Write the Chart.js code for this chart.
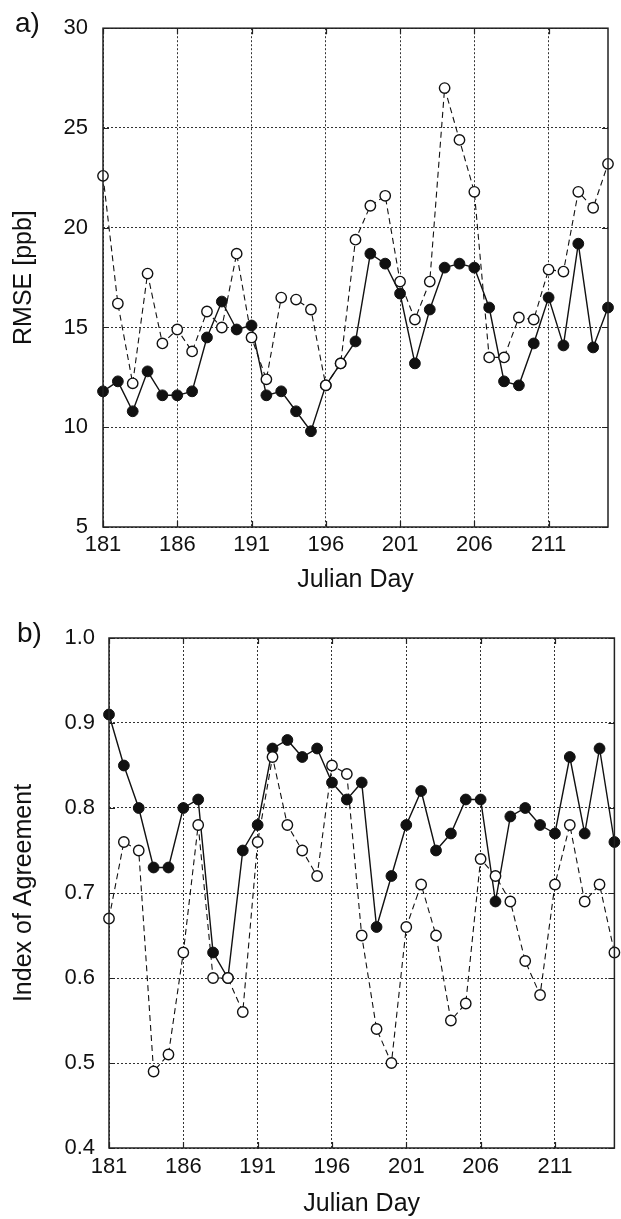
<!DOCTYPE html>
<html>
<head>
<meta charset="utf-8">
<script src="https://cdn.jsdelivr.net/npm/chart.js@4.4.0/dist/chart.umd.min.js"></script>
<style>
  html, body { margin: 0; padding: 0; background: #fff; }
  body { width: 621px; height: 1219px; position: relative; overflow: hidden; }
  .panel { position: absolute; left: 0; }
  .tag { position: absolute; font-family: "Liberation Sans", Arial, sans-serif;
         font-size: 28px; line-height: 28px; color: #111; }
</style>
</head>
<body>
<div class="panel" style="top:0"><canvas id="rmse" width="621" height="600"></canvas></div>
<div class="panel" style="top:600px"><canvas id="ioa" width="621" height="619"></canvas></div>
<div class="tag" style="left:15px; top:9px">a)</div>
<div class="tag" style="left:17px; top:619px">b)</div>
<script>
// Julian days on the x axis
const days = [181, 182, 183, 184, 185, 186, 187, 188, 189, 190,
              191, 192, 193, 194, 195, 196, 197, 198, 199, 200,
              201, 202, 203, 204, 205, 206, 207, 208, 209, 210,
              211, 212, 213, 214, 215];
const xTicks = [181, 186, 191, 196, 201, 206, 211];

// a) RMSE [ppb]
const rmseFilled = [11.8, 12.3, 10.8, 12.8, 11.6, 11.6, 11.8, 14.5, 16.3, 14.9,
                    15.1, 11.6, 11.8, 10.8, 9.8, 12.1, 13.2, 14.3, 18.7, 18.2,
                    16.7, 13.2, 15.9, 18.0, 18.2, 18.0, 16.0, 12.3, 12.1, 14.2,
                    16.5, 14.1, 19.2, 14.0, 16.0];
const rmseOpen = [22.6, 16.2, 12.2, 17.7, 14.2, 14.9, 13.8, 15.8, 15.0, 18.7,
                  14.5, 12.4, 16.5, 16.4, 15.9, 12.1, 13.2, 19.4, 21.1, 21.6,
                  17.3, 15.4, 17.3, 27.0, 24.4, 21.8, 13.5, 13.5, 15.5, 15.4,
                  17.9, 17.8, 21.8, 21.0, 23.2];
const rmseTicks = [5, 10, 15, 20, 25, 30];

// b) Index of Agreement
const ioaFilled = [0.91, 0.85, 0.80, 0.73, 0.73, 0.80, 0.81, 0.63, 0.60, 0.75,
                   0.78, 0.87, 0.88, 0.86, 0.87, 0.83, 0.81, 0.83, 0.66, 0.72,
                   0.78, 0.82, 0.75, 0.77, 0.81, 0.81, 0.69, 0.79, 0.80, 0.78,
                   0.77, 0.86, 0.77, 0.87, 0.76];
const ioaOpen = [0.67, 0.76, 0.75, 0.49, 0.51, 0.63, 0.78, 0.60, 0.60, 0.56,
                 0.76, 0.86, 0.78, 0.75, 0.72, 0.85, 0.84, 0.65, 0.54, 0.50,
                 0.66, 0.71, 0.65, 0.55, 0.57, 0.74, 0.72, 0.69, 0.62, 0.58,
                 0.71, 0.78, 0.69, 0.71, 0.63];
const ioaTicks = [0.4, 0.5, 0.6, 0.7, 0.8, 0.9, 1.0];

const FONT = '"Liberation Sans", Arial, sans-serif';
Chart.defaults.font.family = FONT;
Chart.defaults.color = '#111';

// box round the plot + small inward ticks, matlab style
const boxPlugin = {
  id: 'box',
  afterDraw(chart) {
    const { ctx, chartArea: a, scales } = chart;
    ctx.save();
    ctx.strokeStyle = '#222';
    ctx.lineWidth = 1.5;
    ctx.strokeRect(a.left, a.top, a.right - a.left, a.bottom - a.top);
    ctx.lineWidth = 1.2;
    ctx.beginPath();
    scales.x.ticks.forEach(t => {
      const px = Math.round(scales.x.getPixelForValue(t.value)) + 0.5;
      ctx.moveTo(px, a.bottom); ctx.lineTo(px, a.bottom - 6);
      ctx.moveTo(px, a.top); ctx.lineTo(px, a.top + 6);
    });
    scales.y.ticks.forEach(t => {
      const py = Math.round(scales.y.getPixelForValue(t.value)) + 0.5;
      ctx.moveTo(a.left, py); ctx.lineTo(a.left + 6, py);
      ctx.moveTo(a.right, py); ctx.lineTo(a.right - 6, py);
    });
    ctx.stroke();
    ctx.restore();
  }
};

function pts(vals) {
  return days.map((d, i) => ({ x: d, y: vals[i] }));
}

function makeChart(id, filled, open, yTicks, yMin, yMax, yTitle, fmt, geo) {
  new Chart(document.getElementById(id), {
    type: 'line',
    data: {
      datasets: [
        {
          // open circles, dashed (drawn on top)
          data: pts(open),
          borderColor: '#111',
          borderWidth: 1.1,
          borderDash: [6, 4],
          pointRadius: 5.2,
          pointBackgroundColor: '#fff',
          pointBorderColor: '#111',
          pointBorderWidth: 1.4,
          tension: 0,
          clip: false
        },
        {
          // filled circles, solid
          data: pts(filled),
          borderColor: '#111',
          borderWidth: 1.4,
          pointRadius: 5.4,
          pointBackgroundColor: '#111',
          pointBorderColor: '#111',
          pointBorderWidth: 1,
          tension: 0,
          clip: false
        }
      ]
    },
    options: {
      responsive: false,
      animation: false,
      events: [],
      layout: { padding: { top: geo.top, right: geo.right, left: 0, bottom: 0 } },
      plugins: { legend: { display: false }, tooltip: { enabled: false } },
      scales: {
        x: {
          type: 'linear',
          min: 181,
          max: 215,
          afterBuildTicks: s => { s.ticks = xTicks.map(v => ({ value: v })); },
          afterFit: s => { s.height = geo.xh; },
          grid: { color: '#333', lineWidth: 1, drawTicks: false },
          border: { display: false, dash: [2, 2] },
          ticks: { font: { size: 22 }, padding: geo.xpad, color: '#111', maxRotation: 0 },
          title: { display: true, text: 'Julian Day', font: { size: 25 }, color: '#111',
                   padding: { top: 0, bottom: geo.tpad } }
        },
        y: {
          min: yMin,
          max: yMax,
          afterBuildTicks: s => { s.ticks = yTicks.map(v => ({ value: v })); },
          afterFit: s => { s.width = geo.yw; },
          grid: { color: '#333', lineWidth: 1, drawTicks: false },
          border: { display: false, dash: [2, 2] },
          ticks: { font: { size: 22 }, padding: geo.ypad, color: '#111', callback: fmt },
          title: { display: true, text: yTitle, font: { size: 25 }, color: '#111',
                   padding: { top: 9, bottom: 0 } }
        }
      }
    },
    plugins: [boxPlugin]
  });
}

makeChart('rmse', rmseFilled, rmseOpen, rmseTicks, 5, 30, 'RMSE [ppb]',
  v => String(v),
  { top: 21, right: 13, xh: 73, yw: 103, xpad: 5, ypad: 15, tpad: 5 });

makeChart('ioa', ioaFilled, ioaOpen, ioaTicks, 0.4, 1.0, 'Index of Agreement',
  v => Number(v).toFixed(1),
  { top: 38, right: 3, xh: 71, yw: 109, xpad: 6, ypad: 14, tpad: 0 });
</script>
</body>
</html>
